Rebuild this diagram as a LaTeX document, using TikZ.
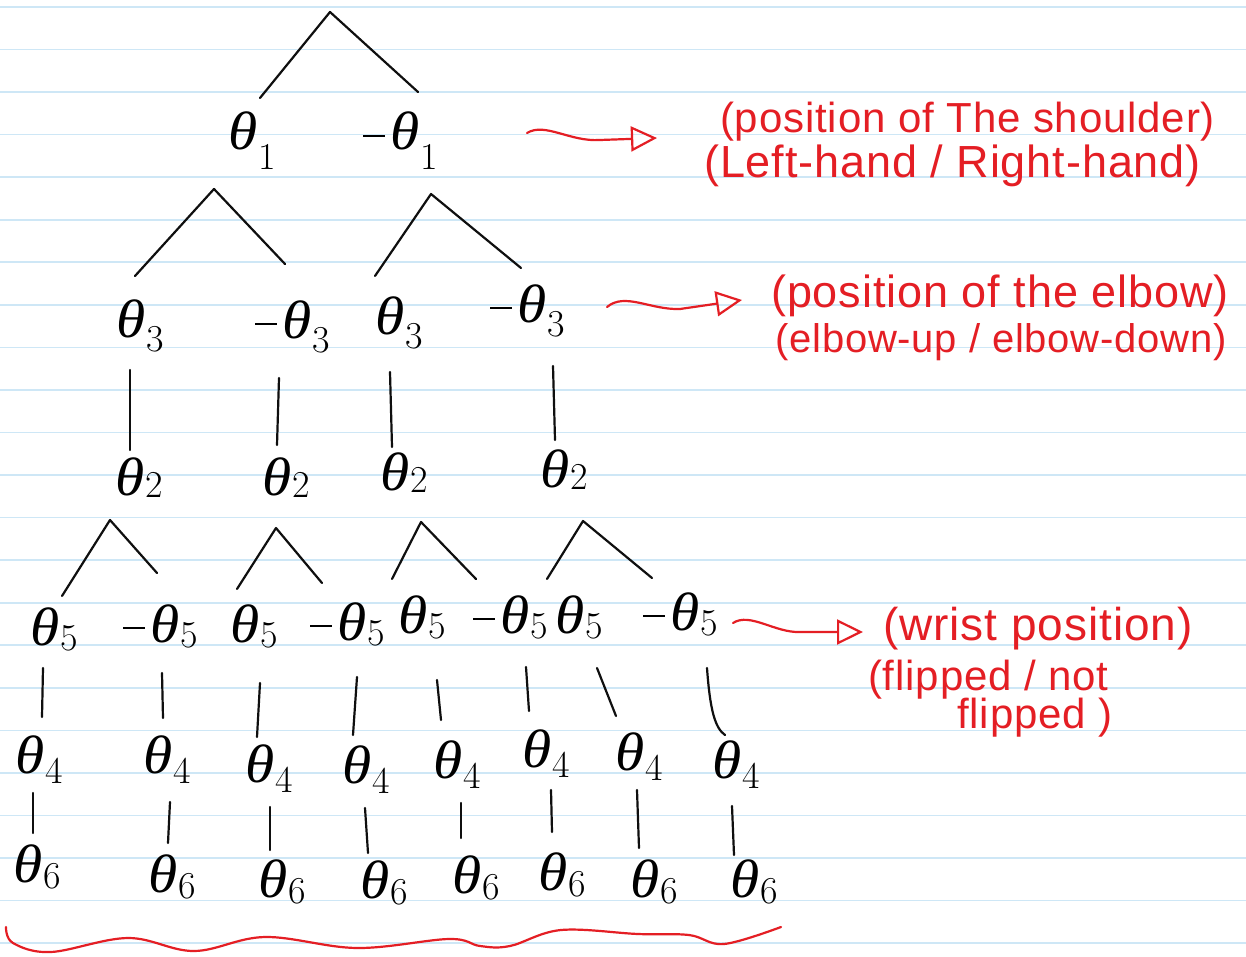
\documentclass[tikz,border=0pt]{standalone}
\usepackage{fontspec}
\newfontfamily\hand[LetterSpace=2]{Liberation Sans}
\newfontfamily\gk{Liberation Serif}
\usetikzlibrary{arrows.meta,calc}
\definecolor{ink}{RGB}{15,15,15}
\definecolor{pen}{RGB}{228,30,36}
\definecolor{paperline}{RGB}{206,231,246}
\newcommand\tz[2][-10pt]{\scalebox{1.1}[1]{\gk\itshape\fontsize{54}{58}\selectfont θ}\kern1pt\raisebox{#1}{\fontsize{38}{42}\selectfont #2}}
\newcommand\mz[2][-10pt]{\rule[13pt]{22pt}{2.2pt}\kern5pt\tz[#1]{#2}}
\newcommand\hs[1]{\hand\fontsize{#1}{#1}\selectfont}
\begin{document}
\begin{tikzpicture}[x=1pt,y=-1pt, line cap=round, line join=round,
  lab/.style={anchor=base west, inner sep=0pt, font=\fontsize{48}{52}\selectfont},
  edge/.style={draw=ink, line width=2.2pt},
  note/.style={anchor=base west, inner sep=0pt, text=pen, font=\hs{42}},
  arr/.style={draw=pen, line width=2.2pt, -{Triangle[open, length=26pt, width=25pt]}},
  ruled/.style={draw=paperline, line width=1.6pt}]
\useasboundingbox (0,0) rectangle (1246,957);
\fill[white] (0,0) rectangle (1246,957);
\foreach \k in {0,...,22} \draw[ruled] (0,{7+42.55*\k}) -- (1246,{7+42.55*\k});

% level 1
\node[lab] (n1a) at (228,150) {\tz[-20pt]{1}};
\node[lab] (n1b) at (363,150) {\mz[-20pt]{1}};
% level 3
\node[lab] (n3a) at (116,337) {\tz[-14pt]{3}};
\node[lab] (n3b) at (255,338) {\mz[-14pt]{3}};
\node[lab] (n3c) at (375,334) {\tz[-14pt]{3}};
\node[lab] (n3d) at (490,322) {\mz[-14pt]{3}};
% level 2
\node[lab] (n2a) at (115,495) {\tz[-2pt]{2}};
\node[lab] (n2b) at (262,495) {\tz[-2pt]{2}};
\node[lab] (n2c) at (380,490) {\tz[-2pt]{2}};
\node[lab] (n2d) at (540,487) {\tz[-2pt]{2}};
% level 5
\node[lab] (n5a) at (30,645) {\tz[-5pt]{5}};
\node[lab] (n5b) at (123,642) {\mz[-5pt]{5}};
\node[lab] (n5c) at (230,642) {\tz[-5pt]{5}};
\node[lab] (n5d) at (310,640) {\mz[-5pt]{5}};
\node[lab] (n5e) at (398,633) {\tz[-5pt]{5}};
\node[lab] (n5f) at (473,633) {\mz[-5pt]{5}};
\node[lab] (n5g) at (555,633) {\tz[-5pt]{5}};
\node[lab] (n5h) at (643,630) {\mz[-5pt]{5}};
% level 4
\node[lab] (n4a) at (15,773) {\tz{4}};
\node[lab] (n4b) at (143,773) {\tz{4}};
\node[lab] (n4c) at (245,782) {\tz{4}};
\node[lab] (n4d) at (342,783) {\tz{4}};
\node[lab] (n4e) at (433,778) {\tz{4}};
\node[lab] (n4f) at (522,767) {\tz{4}};
\node[lab] (n4g) at (615,770) {\tz{4}};
\node[lab] (n4h) at (712,778) {\tz{4}};
% level 6
\node[lab] (n6a) at (13,882) {\tz[-6pt]{6}};
\node[lab] (n6b) at (148,892) {\tz[-6pt]{6}};
\node[lab] (n6c) at (258,897) {\tz[-6pt]{6}};
\node[lab] (n6d) at (360,898) {\tz[-6pt]{6}};
\node[lab] (n6e) at (452,893) {\tz[-6pt]{6}};
\node[lab] (n6f) at (538,890) {\tz[-6pt]{6}};
\node[lab] (n6g) at (630,897) {\tz[-6pt]{6}};
\node[lab] (n6h) at (730,897) {\tz[-6pt]{6}};

% root caret
\coordinate (root) at (330,12);
\draw[edge] ([shift={(32,-52)}]n1a.base west) -- (root) -- ([shift={(55,-58)}]n1b.base west);
% carets level 1 -> 3
\draw[edge] ([shift={(19,-61)}]n3a.base west) -- ([shift={(-14,39)}]n1a.base west) -- ([shift={(30,-74)}]n3b.base west);
\draw[edge] ([shift={(0,-58)}]n3c.base west) -- ([shift={(68,44)}]n1b.base west) -- ([shift={(31,-54)}]n3d.base west);
% verticals 3 -> 2
\draw[edge] ([shift={(14,33)}]n3a.base west) -- ([shift={(15,-45)}]n2a.base west);
\draw[edge] ([shift={(24,40)}]n3b.base west) -- ([shift={(15,-50)}]n2b.base west);
\draw[edge] ([shift={(15,38)}]n3c.base west) -- ([shift={(12,-43)}]n2c.base west);
\draw[edge] ([shift={(63,44)}]n3d.base west) -- ([shift={(15,-47)}]n2d.base west);
% carets level 2 -> 5
\draw[edge] ([shift={(32,-49)}]n5a.base west) -- ([shift={(-5,25)}]n2a.base west) -- ([shift={(34,-69)}]n5b.base west);
\draw[edge] ([shift={(7,-53)}]n5c.base west) -- ([shift={(14,33)}]n2b.base west) -- ([shift={(12,-57)}]n5d.base west);
\draw[edge] ([shift={(-6,-54)}]n5e.base west) -- ([shift={(41,32)}]n2c.base west) -- ([shift={(3,-54)}]n5f.base west);
\draw[edge] ([shift={(-8,-54)}]n5g.base west) -- ([shift={(43,34)}]n2d.base west) -- ([shift={(9,-52)}]n5h.base west);
% verticals 5 -> 4
\draw[edge] ([shift={(13,23)}]n5a.base west) -- ([shift={(27,-56)}]n4a.base west);
\draw[edge] ([shift={(39,31)}]n5b.base west) -- ([shift={(20,-55)}]n4b.base west);
\draw[edge] ([shift={(30,41)}]n5c.base west) -- ([shift={(12,-45)}]n4c.base west);
\draw[edge] ([shift={(47,37)}]n5d.base west) -- ([shift={(11,-48)}]n4d.base west);
\draw[edge] ([shift={(39,47)}]n5e.base west) -- ([shift={(8,-58)}]n4e.base west);
\draw[edge] ([shift={(53,34)}]n5f.base west) -- ([shift={(7,-56)}]n4f.base west);
\draw[edge] ([shift={(42,35)}]n5g.base west) -- ([shift={(1,-54)}]n4g.base west);
\draw[edge] ([shift={(64,38)}]n5h.base west) .. controls +(3,42) and +(-10,-7) .. ([shift={(13,-43)}]n4h.base west);
% verticals 4 -> 6
\draw[edge] ([shift={(18,20)}]n4a.base west) -- ([shift={(20,-49)}]n6a.base west);
\draw[edge] ([shift={(27,29)}]n4b.base west) -- ([shift={(20,-49)}]n6b.base west);
\draw[edge] ([shift={(25,25)}]n4c.base west) -- ([shift={(12,-47)}]n6c.base west);
\draw[edge] ([shift={(23,25)}]n4d.base west) -- ([shift={(8,-45)}]n6d.base west);
\draw[edge] ([shift={(28,25)}]n4e.base west) -- ([shift={(9,-55)}]n6e.base west);
\draw[edge] ([shift={(29,23)}]n4f.base west) -- ([shift={(14,-58)}]n6f.base west);
\draw[edge] ([shift={(22,20)}]n4g.base west) -- ([shift={(9,-49)}]n6g.base west);
\draw[edge] ([shift={(20,28)}]n4h.base west) -- ([shift={(4,-42)}]n6h.base west);

% red notes
\node[note] (r1a) at (720,133) {(position of The shoulder)};
\node[note, font=\hs{45}] (r1b) at (704,178) {(Left-hand / Right-hand)};
\node[note, font=\hs{45}] (r2a) at (771,308) {(position of the elbow)};
\node[note, font=\hs{40}] (r2b) at (775,352) {(elbow-up / elbow-down)};
\node[note, font=\hs{46}] (r3a) at (883,640) {(wrist position)};
\node[note] (r3b) at (868,690) {(flipped / not};
\node[note] (r3c) at (957,728) {flipped )};

% red arrows
\coordinate (a1) at (527,133);
\draw[arr] (a1) .. controls (545,122) and (570,142) .. (600,140) -- ([shift={(-63,5)}]r1a.base west);
\coordinate (a2) at (607,307);
\draw[arr] (a2) .. controls (625,292) and (650,310) .. (680,309) -- ([shift={(-29,-8)}]r2a.base west);
\coordinate (a3) at (733,623);
\draw[arr] (a3) .. controls (750,612) and (775,633) .. (800,632) -- ([shift={(-20,-8)}]r3a.base west);

% red underline
\draw[draw=pen, line width=2.2pt] plot[smooth, tension=0.6] coordinates {(6,927) (13,943) (51,952) (128,938) (194,951) (265,937) (357,948) (449,939) (480,946) (510,946) (561,930) (638,934) (689,935) (724,944) (781,927)};
\end{tikzpicture}
\end{document}
